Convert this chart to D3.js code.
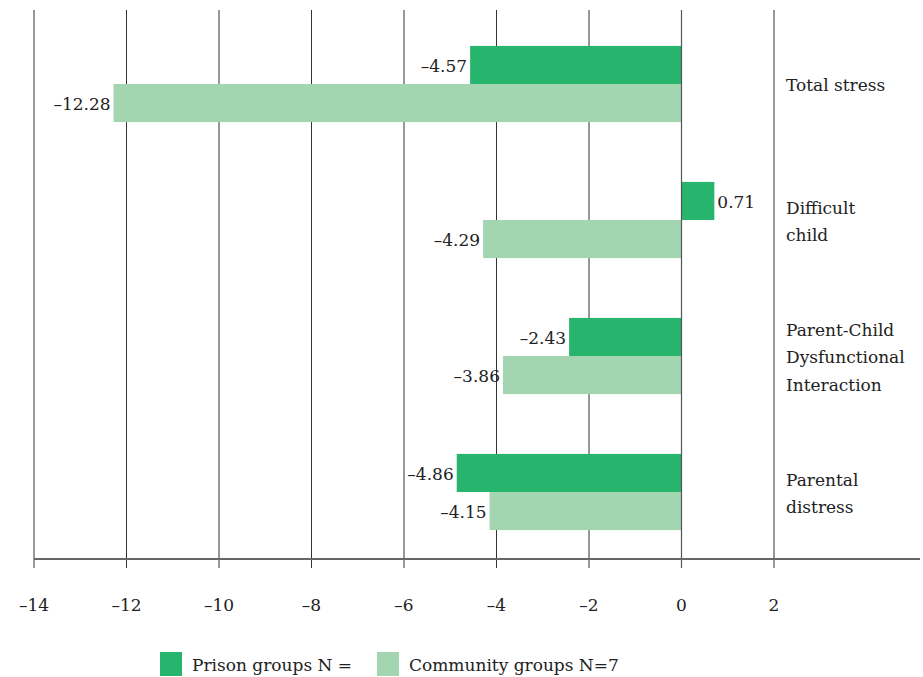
<!DOCTYPE html>
<html>
<head>
<meta charset="utf-8">
<script src="https://cdn.jsdelivr.net/npm/d3@7"></script>
<style>
  body { margin: 0; background: #fff; }
</style>
</head>
<body>
<div id="chart"></div>
<script>
// Values
const categories = ['Total stress', 'Difficult child', 'Parent-Child Dysfunctional Interaction', 'Parental distress'];
const categoryLines = [['Total stress'], ['Difficult', 'child'], ['Parent-Child', 'Dysfunctional', 'Interaction'], ['Parental', 'distress']];
const prisonValues = [-4.57, 0.71, -2.43, -4.86];
const communityValues = [-12.28, -4.29, -3.86, -4.15];
const xTicks = [-14, -12, -10, -8, -6, -4, -2, 0, 2];
const seriesNames = ['Prison groups N =', 'Community groups N=7'];
const seriesColors = ['#27b46c', '#a3d5b0'];

const FONT = "'DejaVu Serif', serif";
const FS = 17;

function fmt(v) {
    return (v < 0 ? '\u2013' : '') + Math.abs(v).toFixed(2);
}

function drawChart() {
    const width = 923, height = 677;
    const svg = d3.select('#chart').append('svg')
        .attr('width', width).attr('height', height)
        .attr('font-family', FONT);

    const x = d3.scaleLinear().domain([-14, 2]).range([34, 774]);
    const y = d3.scaleBand().domain(categories).range([16, 560])
        .paddingInner(0.44).paddingOuter(0.22);
    const half = y.bandwidth() / 2;
    const axisY = 559;

    // Vertical grid lines
    svg.append('g').selectAll('line').data(xTicks).join('line')
        .attr('x1', d => x(d)).attr('x2', d => x(d))
        .attr('y1', 10).attr('y2', 568)
        .attr('stroke', '#333').attr('stroke-width', 1);

    // Bars
    const rows = categories.map((c, i) => ({ c, p: prisonValues[i], m: communityValues[i] }));
    const bars = svg.append('g');
    rows.forEach(r => {
        [[r.p, 0], [r.m, 1]].forEach(([v, s]) => {
            const y0 = y(r.c) + s * half;
            bars.append('rect')
                .attr('x', x(Math.min(0, v)))
                .attr('y', y0)
                .attr('width', Math.abs(x(v) - x(0)))
                .attr('height', half)
                .attr('fill', seriesColors[s]);
            bars.append('text')
                .attr('x', v < 0 ? x(v) - 3 : x(v) + 3)
                .attr('y', y0 + half / 2 + 1)
                .attr('dy', '0.35em')
                .attr('text-anchor', v < 0 ? 'end' : 'start')
                .attr('font-family', FONT)
                .attr('font-size', FS)
                .attr('fill', '#222')
                .text(fmt(v));
        });
    });

    // Zero line on top of bars
    svg.append('line')
        .attr('x1', x(0)).attr('x2', x(0)).attr('y1', 10).attr('y2', 568)
        .attr('stroke', '#555').attr('stroke-width', 1.2);

    // X axis line
    svg.append('line')
        .attr('x1', 34).attr('x2', 920).attr('y1', axisY).attr('y2', axisY)
        .attr('stroke', '#666').attr('stroke-width', 2);

    // Tick labels
    svg.append('g').selectAll('text').data(xTicks).join('text')
        .attr('x', d => x(d)).attr('y', 605)
        .attr('dy', '0.35em')
        .attr('text-anchor', 'middle')
        .attr('font-family', FONT)
        .attr('font-size', FS).attr('fill', '#222')
        .text(d => (d < 0 ? '\u2013' + Math.abs(d) : d));

    // Category labels
    const lineH = 27.5;
    categoryLines.forEach((lines, i) => {
        const cy = y(categories[i]) + half + 1.5;
        const t = svg.append('text')
            .attr('x', 786)
            .attr('font-family', FONT)
            .attr('font-size', FS).attr('fill', '#222');
        lines.forEach((l, j) => {
            t.append('tspan')
                .attr('x', 786)
                .attr('y', cy + (j - (lines.length - 1) / 2) * lineH)
                .attr('dy', '0.35em')
                .text(l);
        });
    });

    // Legend
    const legend = svg.append('g');
    const legendX = [160, 377];
    seriesNames.forEach((n, i) => {
        legend.append('rect')
            .attr('x', legendX[i]).attr('y', 652)
            .attr('width', 22).attr('height', 24)
            .attr('fill', seriesColors[i]);
        legend.append('text')
            .attr('x', legendX[i] + 32).attr('y', 665)
            .attr('dy', '0.35em')
            .attr('font-family', FONT)
            .attr('font-size', FS).attr('fill', '#222')
            .text(n);
    });
}

drawChart();
</script>
</body>
</html>
